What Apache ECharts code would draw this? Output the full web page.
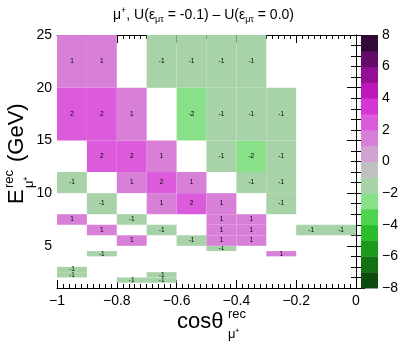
<!DOCTYPE html>
<html>
<head>
<meta charset="utf-8">
<script src="https://cdn.jsdelivr.net/npm/echarts@6.0.0/dist/echarts.min.js"></script>
<style>
html, body { margin: 0; padding: 0; background: #fff; }
#container { width: 407px; height: 344px; }
</style>
</head>
<body>
<div id="container"></div>
<script>
// bin edges
var xEdges = [-1, -0.9, -0.8, -0.7, -0.6, -0.5, -0.4, -0.3, -0.2, -0.1, 0];
var yEdges = [1, 1.5, 2, 2.5, 3, 3.5, 4, 4.5, 5, 6, 7, 8, 10, 12, 15, 20, 25];

// one row per y bin (from bottom), one entry per x bin, null = empty bin
var binValues = [
    [null, null, null, null, null, null, null, null, null, null], // 1-1.5
    [null, null, -1, -1, null, null, null, null, null, null],     // 1.5-2
    [-1, null, null, -1, null, null, null, null, null, null],     // 2-2.5
    [-1, null, null, null, null, null, null, null, null, null],   // 2.5-3
    [null, null, null, null, null, null, null, null, null, null], // 3-3.5
    [null, null, null, null, null, null, null, null, null, null], // 3.5-4
    [null, -1, null, null, null, null, null, 1, null, null],      // 4-4.5
    [null, null, null, null, null, -1, null, null, null, null],   // 4.5-5
    [null, null, 1, null, -1, 1, 1, null, null, null],            // 5-6
    [null, 1, null, -1, null, 1, 1, null, -1, -1],                // 6-7
    [1, null, -1, null, null, 1, 1, null, null, null],            // 7-8
    [null, -1, null, 1, 2, 1, null, -1, null, null],              // 8-10
    [-1, null, 1, 2, 1, null, -1, -1, null, null],                // 10-12
    [null, 2, 2, 1, null, -1, -2, -1, null, null],                // 12-15
    [2, 2, 1, null, -2, -1, -1, -1, null, null],                  // 15-20
    [1, 1, null, -1, -1, -1, -1, null, null, null]                // 20-25
];

// z levels (colour bands) from -8 to 8
var levelEdges = [-8, -7, -6, -5, -4, -3, -2, -1, 0, 1, 2, 3, 4, 5, 6, 7, 8];
var bandColors = [
    '#0d4a0d', '#137013', '#1b9a1b', '#2cbd2c', '#50d450', '#88e088', '#a8d2a8', '#c0c0c0',
    '#d2a2d2', '#d880d8', '#dc5adc', '#d436d4', '#bc18bc', '#920e94', '#640a68', '#300a34'
];

var fontName = '"Liberation Sans", Arial, sans-serif';

var cells = [];
for (var yi = 0; yi < binValues.length; yi++) {
    for (var xi = 0; xi < binValues[yi].length; xi++) {
        var v = binValues[yi][xi];
        if (v === null) continue;
        cells.push([xEdges[xi], xEdges[xi + 1], yEdges[yi], yEdges[yi + 1], v]);
    }
}

// bands below zero include their upper edge, bands above zero their lower edge
var pieces = [];
var bands = [];
for (var i = 0; i < levelEdges.length - 1; i++) {
    var lo = levelEdges[i], hi = levelEdges[i + 1];
    if (hi <= 0) {
        pieces.push({ gt: lo, lte: hi, color: bandColors[i] });
    } else {
        pieces.push({ gte: lo, lt: hi, color: bandColors[i] });
    }
    bands.push([0, 1, lo, hi, (lo + hi) / 2]);
}

function minus(s) { return String(s).replace('-', '\u2212'); }

var dom = document.getElementById('container');
var myChart = echarts.init(dom, null, { renderer: 'canvas' });

var tickStyle = { color: '#000', width: 1 };

var option = {
    animation: false,
    backgroundColor: '#fff',
    textStyle: { fontFamily: fontName },
    title: {
        left: 'center',
        top: 1,
        text: '{n|\u03bc}{sup|+}{n|, U(\u03b5}{sub|\u03bc\u03c4}{n| = -0.1) \u2013 U(\u03b5}{sub|\u03bc\u03c4}{n| = 0.0)}',
        textStyle: {
            fontWeight: 'normal',
            rich: {
                n: { fontSize: 14, fontFamily: fontName, fontWeight: 'normal', color: '#000' },
                sup: { fontSize: 9, fontFamily: fontName, fontWeight: 'normal', color: '#000', padding: [0, 0, 8, 0] },
                sub: { fontSize: 9, fontFamily: fontName, fontWeight: 'normal', color: '#000', padding: [9, 0, 0, 0] }
            }
        }
    },
    grid: [
        { left: 57, right: 51, top: 35, bottom: 56 },
        { left: 361, width: 17, top: 35, bottom: 56 }
    ],
    xAxis: [
        {
            type: 'value', gridIndex: 0, position: 'bottom', min: -1, max: 0, interval: 0.2,
            axisLine: { lineStyle: tickStyle },
            axisTick: { inside: true, length: 8, lineStyle: tickStyle },
            minorTick: { show: true, splitNumber: 10, length: 4, lineStyle: tickStyle },
            splitLine: { show: false },
            axisLabel: { fontSize: 14, color: '#000', margin: 6, formatter: function (v) { return minus(v); } }
        },
        {
            type: 'value', gridIndex: 0, position: 'top', min: -1, max: 0, interval: 0.2,
            axisLine: { lineStyle: tickStyle },
            axisTick: { inside: true, length: 8, lineStyle: tickStyle },
            minorTick: { show: true, splitNumber: 10, length: 4, lineStyle: tickStyle },
            splitLine: { show: false },
            axisLabel: { show: false }
        },
        { type: 'value', gridIndex: 1, min: 0, max: 1, show: false }
    ],
    yAxis: [
        {
            type: 'value', gridIndex: 0, position: 'left', min: 1, max: 25, splitNumber: 5,
            axisLine: { lineStyle: tickStyle },
            axisTick: { inside: true, length: 9, lineStyle: tickStyle },
            minorTick: { show: true, splitNumber: 5, length: 5, lineStyle: tickStyle },
            splitLine: { show: false },
            axisLabel: {
                fontSize: 14, color: '#000', margin: 5,
                formatter: function (v) { return v % 5 === 0 ? String(v) : ''; }
            }
        },
        {
            type: 'value', gridIndex: 0, position: 'right', min: 1, max: 25, splitNumber: 5,
            axisLine: { lineStyle: tickStyle },
            axisTick: { inside: true, length: 9, lineStyle: tickStyle },
            minorTick: { show: true, splitNumber: 5, length: 5, lineStyle: tickStyle },
            splitLine: { show: false },
            axisLabel: { show: false }
        },
        {
            type: 'value', gridIndex: 1, position: 'right', min: -8, max: 8, interval: 2,
            axisLine: { show: false },
            axisTick: { inside: true, length: 6, lineStyle: tickStyle },
            splitLine: { show: false },
            axisLabel: { fontSize: 14, color: '#000', margin: 4, formatter: function (v) { return minus(v); } }
        }
    ],
    visualMap: {
        type: 'piecewise',
        show: false,
        dimension: 4,
        seriesIndex: [0, 1],
        pieces: pieces
    },
    series: [
        {
            type: 'custom',
            xAxisIndex: 0,
            yAxisIndex: 0,
            data: cells,
            renderItem: function (params, api) {
                var p0 = api.coord([api.value(0), api.value(3)]);
                var p1 = api.coord([api.value(1), api.value(2)]);
                var w = p1[0] - p0[0], h = p1[1] - p0[1];
                return {
                    type: 'group',
                    children: [
                        {
                            type: 'rect',
                            shape: { x: p0[0], y: p0[1], width: w, height: h },
                            style: { fill: api.visual('color') }
                        },
                        {
                            type: 'text',
                            x: p0[0] + w / 2,
                            y: p0[1] + h / 2,
                            style: {
                                text: String(api.value(4)),
                                fontSize: 6.5,
                                fontFamily: fontName,
                                fill: '#000',
                                align: 'center',
                                verticalAlign: 'middle'
                            }
                        }
                    ]
                };
            }
        },
        {
            type: 'custom',
            xAxisIndex: 2,
            yAxisIndex: 2,
            data: bands,
            renderItem: function (params, api) {
                var p0 = api.coord([api.value(0), api.value(3)]);
                var p1 = api.coord([api.value(1), api.value(2)]);
                return {
                    type: 'rect',
                    shape: { x: p0[0], y: p0[1], width: p1[0] - p0[0], height: p1[1] - p0[1] + 0.5 },
                    style: { fill: api.visual('color') }
                };
            }
        }
    ],
    graphic: [
        {
            type: 'group',
            x: 177, y: 322,
            children: [
                { type: 'text', x: 0, y: 0, style: { text: 'cos\u03b8', fontSize: 22, fontFamily: fontName, fill: '#000', verticalAlign: 'middle' } },
                { type: 'text', x: 51, y: -8, style: { text: 'rec', fontSize: 13, fontFamily: fontName, fill: '#000', verticalAlign: 'middle' } },
                { type: 'text', x: 51, y: 12, style: { text: '\u03bc\u207a', fontSize: 13, fontFamily: fontName, fill: '#000', verticalAlign: 'middle' } }
            ]
        },
        {
            type: 'group',
            x: 17, y: 152,
            rotation: Math.PI / 2,
            children: [
                { type: 'text', x: -52, y: 0, style: { text: 'E', fontSize: 22, fontFamily: fontName, fill: '#000', verticalAlign: 'middle' } },
                { type: 'text', x: -36, y: -8, style: { text: 'rec', fontSize: 13, fontFamily: fontName, fill: '#000', verticalAlign: 'middle' } },
                { type: 'text', x: -36, y: 12, style: { text: '\u03bc\u207a', fontSize: 13, fontFamily: fontName, fill: '#000', verticalAlign: 'middle' } },
                { type: 'text', x: -10, y: 0, style: { text: '(GeV)', fontSize: 22, fontFamily: fontName, fill: '#000', verticalAlign: 'middle' } }
            ]
        }
    ]
};

myChart.setOption(option, true);
</script>
</body>
</html>
